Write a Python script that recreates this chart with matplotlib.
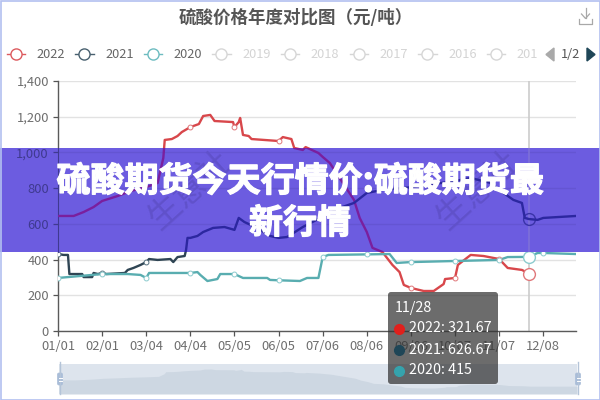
import numpy as np
import matplotlib
matplotlib.use('Agg')
import matplotlib.pyplot as plt
import matplotlib.patheffects as pe
from matplotlib.patches import Rectangle, FancyBboxPatch, Polygon

plt.rcParams['font.family'] = ['Noto Sans CJK SC', 'DejaVu Sans']

# days are counted from 01/01
tick_days = [0, 31, 62, 93, 124, 155, 186, 217, 248, 279, 310, 341]
tick_labels = ['01/01', '02/01', '03/04', '04/04', '05/05', '06/05',
               '07/06', '08/06', '09/06', '10/07', '11/07', '12/08']
y_ticks = [0, 200, 400, 600, 800, 1000, 1200, 1400]
y_labels = ['0', '200', '400', '600', '800', '1,000', '1,200', '1,400']

days_2022 = [0, 11, 18, 25, 31, 42, 51, 62, 70, 74, 75, 80, 84, 87, 93, 99, 102, 107, 110,
             123, 124, 127, 128, 130, 134, 136, 155, 158, 164, 166, 172, 174, 183, 186, 191,
             208, 212, 217, 221, 228, 235, 240, 243, 248, 257, 264, 271, 272, 279, 281, 290,
             299, 310, 316, 326, 331]
values_2022 = [644, 644, 666, 694, 728, 756, 784, 806, 829, 969, 1070, 1075, 1092, 1114, 1142,
               1159, 1204, 1210, 1176, 1170, 1142, 1170, 1193, 1098, 1092, 1075, 1064, 1086,
               1075, 1025, 1014, 1030, 997, 975, 941, 734, 633, 554, 465, 442, 370, 330, 258,
               241, 224, 224, 263, 291, 297, 370, 426, 420, 403, 353, 342, 321.67]

days_2021 = [0, 4, 7, 8, 17, 18, 24, 25, 28, 31, 34, 47, 49, 53, 58, 62, 64, 70, 79, 81, 84,
             89, 90, 91, 93, 98, 102, 109, 117, 124, 127, 131, 140, 149, 155, 161, 172, 186,
             198, 208, 217, 228, 248, 279, 290, 304, 310, 320, 326, 328, 331, 337, 341, 364]
values_2021 = [431, 426, 426, 319, 319, 302, 302, 325, 319, 325, 319, 325, 342, 353, 370, 386,
               403, 398, 403, 386, 414, 420, 454, 521, 521, 532, 554, 577, 582, 566, 633, 610,
               577, 532, 521, 526, 582, 640, 689, 717, 773, 790, 805, 840, 857, 829, 790, 734,
               717, 633, 626.67, 622, 633, 644]

days_2020 = [0, 31, 49, 58, 62, 64, 93, 98, 100, 105, 112, 114, 124, 130, 147, 149, 155, 170,
             175, 183, 186, 190, 217, 233, 238, 248, 279, 310, 316, 331, 337, 341, 364]
values_2020 = [297, 319, 319, 314, 297, 325, 325, 330, 314, 280, 291, 319, 319, 297, 297, 286,
               284, 280, 297, 297, 414, 426, 429, 431, 381, 386, 392, 398, 414, 415, 437, 437,
               431]

legend_names = ['2022', '2021', '2020', '2019', '2018', '2017', '2016', '201']
legend_colors = ['#dc5a5e', '#48606f', '#6dbcc0', '#d6d6d6', '#d6d6d6', '#d6d6d6', '#d6d6d6', '#d6d6d6']
tooltip_rows = ['2022: 321.67', '2021: 626.67', '2020: 415']
tooltip_colors = ['#e0201c', '#1f4657', '#35a3ad']

RED = '#d8474b'
DARK = '#2f4554'
TEAL = '#59adb0'
TOOLTIP_DAY = 331
BAND_LOW, BAND_HIGH = 442, 1025  # value range that the banner covers


def box(left, top, right, bottom):
    return [left / 600, 1 - bottom / 400, (right - left) / 600, (bottom - top) / 400]


def draw_series(ax, days, values, color, bigedge):
    days = np.array(days)
    idx = [i for i, d in enumerate(days) if d in tick_days]
    ax.plot(days, values, color=color, lw=1.7, solid_joinstyle='round', zorder=3)
    ax.plot(days[idx], np.array(values)[idx], ls='', marker='o', ms=3.5, mfc='white',
            mec=bigedge, mew=0.7, zorder=4)
    big = list(days).index(TOOLTIP_DAY)
    ax.plot([TOOLTIP_DAY], [values[big]], ls='', marker='o', ms=8.5, mfc='white',
            mec=bigedge, mew=1.0, zorder=5)


fig = plt.figure(figsize=(6, 4), dpi=100)

# main chart
ax = fig.add_axes(box(58, 81, 576, 331), zorder=1)
ax.set_xlim(0, 364)
ax.set_ylim(0, 1400)
ax.set_xticks(tick_days)
ax.set_xticklabels(tick_labels)
ax.set_yticks(y_ticks)
ax.set_yticklabels(y_labels)
ax.tick_params(colors='#555555', labelcolor='#6e6e6e', labelsize=9.3, length=3.5, width=0.9, pad=3)
ax.grid(axis='y', color='#e2e2e2', lw=1)
ax.set_axisbelow(True)
for side in ['top', 'right']:
    ax.spines[side].set_visible(False)
for side in ['left', 'bottom']:
    ax.spines[side].set_color('#5a5a5a')
    ax.spines[side].set_linewidth(1)
ax.axvline(TOOLTIP_DAY, color='#cccccc', lw=1.2, zorder=2)
draw_series(ax, days_2022, values_2022, RED, '#e0787b')
draw_series(ax, days_2021, values_2021, DARK, '#55707f')
draw_series(ax, days_2020, values_2020, TEAL, '#8ccbce')
for wx in [93, 295]:
    ax.text(wx, 790, '生意社', fontsize=24, rotation=42, color='#f0f0f0', ha='center', va='center', zorder=1)

# data zoom strip, its shadow is the 2022 series
sl = fig.add_axes(box(59, 364, 577, 394), zorder=2)
sl.set_xlim(0, 364)
sl.set_ylim(-86, 1470)
sl.set_facecolor('#dde4ed')
sl.fill_between(days_2022 + [364], values_2022 + [values_2022[-1]], -86, color='#cdd7e2', lw=0)
sl.set_xticks([])
sl.set_yticks([])
for s in sl.spines.values():
    s.set_visible(False)

# banner
band = fig.add_axes(box(0, 148, 600, 252), zorder=3)
band.set_facecolor('#6c5ce0')
band.set_xticks([])
band.set_yticks([])
for s in band.spines.values():
    s.set_visible(False)

# what shows through the banner
tint = fig.add_axes(box(58, 148, 576, 252), zorder=4)
tint.patch.set_alpha(0)
tint.set_xlim(0, 364)
tint.set_ylim(BAND_LOW, BAND_HIGH)
tint.plot(days_2022, values_2022, color='#7a1f9e', lw=1.7, zorder=3)
tint.plot(days_2021, values_2021, color='#2c27a0', lw=1.7, zorder=3)
tint.axvline(TOOLTIP_DAY, color='#7d70d8', lw=1.2)
tint.grid(axis='y', color='#6455d2', lw=1)
tint.set_axisbelow(True)
tint.set_xticks([])
tint.set_yticks([600, 800, 1000])
tint.set_yticklabels(['600', '800', '1,000'])
tint.tick_params(colors='#3f3a90', labelcolor='#3f3a90', labelsize=9.3, length=3.5, width=0.9, pad=3)
for side in ['top', 'right', 'bottom']:
    tint.spines[side].set_visible(False)
tint.spines['left'].set_color('#3f3a90')
for wx in [93, 295]:
    tint.text(wx, 790, '生意社', fontsize=24, rotation=42, color='#6051ca', ha='center', va='center',
              clip_on=True, zorder=1)
bi = list(days_2021).index(TOOLTIP_DAY)
tint.plot([TOOLTIP_DAY], [values_2021[bi]], ls='', marker='o', ms=8.5, mfc='none', mec='#3a33a8', mew=1.0)

# everything else, placed in pixels of the picture
top = fig.add_axes([0, 0, 1, 1], zorder=5)
top.set_xlim(0, 600)
top.set_ylim(400, 0)
top.axis('off')
top.patch.set_alpha(0)

top.text(296, 18, '硫酸价格年度对比图（元/吨）', fontsize=12.6, fontweight='bold', color='#555555',
         ha='center', va='center')

# download icon
top.plot([585.5, 585.5], [8, 18], color='#a8a8a8', lw=0.9)
top.plot([581.5, 585.5, 589.5], [14, 18.5, 14], color='#a8a8a8', lw=0.9)
top.plot([579, 579, 592, 592], [19, 24, 24, 19], color='#a8a8a8', lw=0.9)

# legend
for i, (name, col) in enumerate(zip(legend_names, legend_colors)):
    lx = 6.5 + i * 68.6
    top.plot([lx, lx + 18.5], [54, 54], color=col, lw=1)
    top.plot([lx + 9.2], [54], ls='', marker='o', ms=8, mfc='white', mec=col, mew=1)
    top.text(lx + 30, 54, name, fontsize=9.2, color='#666666' if i < 3 else '#d4d4d4',
             ha='left', va='center')
top.add_patch(Polygon([[554, 48], [554, 61], [546, 54.5]], color='#a9a9a9'))
top.text(570.5, 54, '1/2', fontsize=9.2, color='#555555', ha='center', va='center')
top.add_patch(Polygon([[587, 48], [587, 61], [595, 54.5]], color='#1f4657'))

# banner title
glow = [pe.withStroke(linewidth=0.9, foreground='white')]
top.text(300, 181, '硫酸期货今天行情价:硫酸期货最', fontsize=24.5, fontweight='bold', color='white',
         ha='center', va='center', path_effects=glow)
top.text(300, 223, '新行情', fontsize=24.5, fontweight='bold', color='white',
         ha='center', va='center', path_effects=glow)

# slider handles
for hx in [60, 578]:
    top.plot([hx, hx], [362, 394], color='#b4c4d8', lw=1)
    top.add_patch(FancyBboxPatch((hx - 2.5, 373), 5, 12, boxstyle='round,pad=0,rounding_size=1.5',
                                 fc='#a9bdd8', ec='#a9bdd8', lw=0.5))
    top.plot([hx - 1.5, hx + 1.5], [377.5, 377.5], color='white', lw=0.7)
    top.plot([hx - 1.5, hx + 1.5], [380.5, 380.5], color='white', lw=0.7)

# tooltip
top.add_patch(FancyBboxPatch((388, 292), 110, 92, boxstyle='round,pad=0,rounding_size=3',
                             fc='#333333', ec='none', alpha=0.72, zorder=6))
top.text(395, 308, '11/28', fontsize=10.3, color='white', ha='left', va='center', zorder=7)
for i, (row, col) in enumerate(zip(tooltip_rows, tooltip_colors)):
    ty = 328.5 + i * 21
    top.plot([398.5], [ty], ls='', marker='o', ms=7, mfc=col, mec=col, zorder=7)
    top.text(409, ty, row, fontsize=10.3, color='white', ha='left', va='center', zorder=7)

# page edge
top.add_patch(Rectangle((0.5, 0.5), 599, 399, fill=False, ec='#b3c0f0', lw=1.2, clip_on=False))

fig.savefig('out.png', dpi=100)
